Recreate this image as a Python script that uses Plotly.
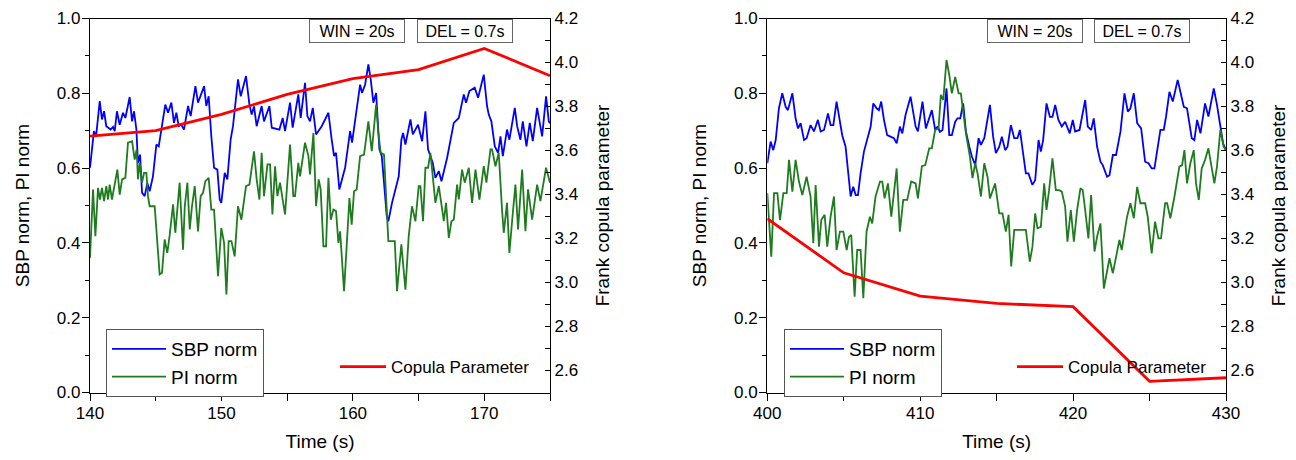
import plotly.graph_objects as go

# ---------------- Left panel data (140-175 s) ----------------
sbp_left_t = [140.0, 140.30, 140.46, 140.74, 140.91, 141.07, 141.24, 141.42, 141.57, 141.75, 141.88, 142.05, 142.26, 142.51, 142.69,
              143.02, 143.20, 143.35, 143.53, 143.65, 143.81, 143.96, 144.16, 144.36, 144.54, 144.79, 145.05, 145.23, 145.43, 145.73,
              145.94, 146.19, 146.39, 146.57, 146.75, 146.95, 147.15, 147.46, 147.66, 148.02, 148.22, 148.68, 148.85, 149.03, 149.23,
              149.44, 149.69, 149.87, 149.99, 150.25, 150.45, 150.70, 150.88, 151.09, 151.26, 151.47, 151.87, 152.13, 152.30, 152.48,
              152.68, 153.06, 153.24, 153.65, 153.83, 154.41, 154.66, 154.84, 155.22, 155.42, 155.85, 156.03, 156.36, 156.54, 156.74,
              156.95, 157.20, 157.63, 158.14, 158.39, 158.57, 158.72, 158.97, 159.41, 159.79, 159.94, 160.17, 160.55, 160.70, 160.93,
              161.18, 161.36, 161.56, 161.77, 162.02, 162.20, 162.37, 162.58, 162.70, 162.98, 163.49, 163.69, 163.82, 164.00, 164.38,
              164.56, 164.96, 165.27, 165.52, 165.72, 166.08, 166.28, 166.54, 166.74, 167.17, 167.68, 168.06, 168.44, 168.61, 168.87,
              169.27, 169.53, 169.96, 170.21, 170.34, 170.54, 170.80, 171.05, 171.23, 171.41, 171.73, 171.91, 172.32, 172.50, 172.75,
              172.93, 173.21, 173.46, 173.69, 174.02, 174.40, 174.70, 174.91, 175.0]
sbp_left = [0.601, 0.699, 0.684, 0.779, 0.730, 0.752, 0.712, 0.708, 0.703, 0.710, 0.699, 0.752, 0.716, 0.748, 0.734,
            0.790, 0.725, 0.752, 0.703, 0.614, 0.636, 0.534, 0.525, 0.560, 0.538, 0.578, 0.663, 0.658, 0.703, 0.770,
            0.748, 0.775, 0.721, 0.748, 0.712, 0.716, 0.703, 0.766, 0.739, 0.819, 0.775, 0.819, 0.766, 0.792, 0.685,
            0.601, 0.596, 0.516, 0.507, 0.587, 0.570, 0.676, 0.712, 0.784, 0.837, 0.792, 0.846, 0.770, 0.743, 0.765,
            0.712, 0.766, 0.725, 0.766, 0.708, 0.703, 0.734, 0.699, 0.775, 0.708, 0.797, 0.734, 0.828, 0.739, 0.725,
            0.761, 0.690, 0.712, 0.748, 0.676, 0.632, 0.641, 0.543, 0.601, 0.699, 0.668, 0.730, 0.823, 0.801, 0.823,
            0.877, 0.837, 0.775, 0.801, 0.650, 0.632, 0.561, 0.471, 0.458, 0.507, 0.578, 0.676, 0.694, 0.663, 0.730,
            0.690, 0.716, 0.672, 0.752, 0.650, 0.614, 0.574, 0.592, 0.565, 0.627, 0.721, 0.734, 0.797, 0.775, 0.806,
            0.815, 0.788, 0.850, 0.766, 0.743, 0.725, 0.658, 0.641, 0.685, 0.632, 0.703, 0.676, 0.761, 0.712, 0.676,
            0.725, 0.658, 0.721, 0.672, 0.761, 0.685, 0.792, 0.725, 0.720]

pi_left_t = [140.0, 140.23, 140.41, 140.61, 140.76, 140.91, 141.07, 141.24, 141.37, 141.50, 141.67, 142.08, 142.26, 142.44, 142.69,
             142.89, 143.20, 143.40, 143.55, 143.65, 143.78, 143.96, 144.11, 144.29, 144.41, 144.54, 144.92, 145.30, 145.48, 145.68,
             145.88, 146.06, 146.32, 146.49, 146.82, 147.08, 147.21, 147.41, 147.59, 147.76, 147.97, 148.22, 148.42, 148.60, 148.78,
             149.03, 149.23, 149.44, 149.74, 149.99, 150.20, 150.38, 150.55, 150.76, 151.01, 151.26, 151.52, 151.87, 152.13, 152.48,
             152.68, 152.89, 153.06, 153.24, 153.50, 153.70, 153.88, 154.08, 154.26, 154.46, 154.66, 154.84, 155.22, 155.47, 155.60,
             155.85, 155.98, 156.36, 156.62, 156.74, 157.00, 157.20, 157.40, 157.55, 157.76, 157.96, 158.14, 158.32, 158.52, 158.72,
             158.90, 159.03, 159.33, 159.53, 159.74, 159.91, 160.09, 160.29, 160.55, 160.85, 161.18, 161.44, 161.77, 161.94, 162.12,
             162.37, 162.70, 163.19, 163.36, 163.69, 164.00, 164.25, 164.50, 164.76, 165.01, 165.14, 165.34, 165.52, 165.72, 165.90,
             166.08, 166.28, 166.54, 166.79, 166.92, 167.09, 167.30, 167.50, 167.68, 167.93, 168.06, 168.31, 168.51, 168.82, 169.07,
             169.33, 169.63, 169.96, 170.16, 170.47, 170.59, 170.85, 171.10, 171.35, 171.48, 171.73, 171.91, 172.17, 172.37, 172.57,
             172.88, 173.13, 173.33, 173.64, 174.02, 174.27, 174.70, 175.0]
pi_left = [0.360, 0.543, 0.418, 0.547, 0.516, 0.547, 0.512, 0.552, 0.516, 0.556, 0.516, 0.596, 0.529, 0.570, 0.574,
           0.668, 0.672, 0.623, 0.650, 0.570, 0.614, 0.561, 0.587, 0.587, 0.525, 0.498, 0.498, 0.316, 0.320, 0.409,
           0.373, 0.420, 0.503, 0.427, 0.561, 0.382, 0.498, 0.561, 0.436, 0.498, 0.552, 0.431, 0.525, 0.534, 0.565,
           0.574, 0.489, 0.489, 0.311, 0.440, 0.400, 0.262, 0.405, 0.405, 0.364, 0.498, 0.462, 0.552, 0.556, 0.645,
           0.570, 0.516, 0.641, 0.525, 0.610, 0.610, 0.476, 0.605, 0.525, 0.561, 0.516, 0.476, 0.663, 0.525, 0.525,
           0.614, 0.578, 0.668, 0.632, 0.583, 0.694, 0.498, 0.570, 0.543, 0.391, 0.391, 0.574, 0.462, 0.489, 0.485,
           0.400, 0.431, 0.271, 0.391, 0.520, 0.449, 0.538, 0.543, 0.632, 0.636, 0.725, 0.645, 0.770, 0.694, 0.641,
           0.636, 0.405, 0.405, 0.271, 0.396, 0.275, 0.418, 0.498, 0.458, 0.552, 0.552, 0.458, 0.601, 0.601, 0.641,
           0.574, 0.507, 0.552, 0.498, 0.458, 0.507, 0.413, 0.458, 0.462, 0.556, 0.516, 0.596, 0.561, 0.601, 0.507,
           0.596, 0.516, 0.605, 0.561, 0.650, 0.650, 0.605, 0.641, 0.489, 0.427, 0.507, 0.373, 0.480, 0.556, 0.436,
           0.596, 0.431, 0.543, 0.462, 0.556, 0.512, 0.601, 0.561]

cop_left_t = [140, 145, 150, 155, 160, 165, 170, 175]
cop_left = [3.665, 3.69, 3.764, 3.855, 3.927, 3.968, 4.064, 3.94]

# ---------------- Right panel data (400-430 s) ----------------
sbp_right_t = [400.0, 400.22, 400.39, 400.55, 400.76, 400.98, 401.20, 401.35, 401.64, 401.85, 402.01, 402.18, 402.40, 402.57, 402.83,
               403.05, 403.31, 403.49, 403.71, 403.97, 404.14, 404.32, 404.53, 404.75, 404.90, 405.12, 405.27, 405.45, 405.62, 405.78,
               405.93, 406.10, 406.32, 406.54, 406.76, 406.93, 407.15, 407.30, 407.45, 407.63, 407.84, 408.06, 408.28, 408.46, 408.67,
               408.83, 409.04, 409.37, 409.54, 409.70, 409.85, 410.15, 410.37, 410.76, 410.98, 411.14, 411.29, 411.46, 411.72, 411.90,
               412.07, 412.29, 412.44, 412.62, 412.81, 412.99, 413.21, 413.38, 413.60, 413.82, 413.97, 414.19, 414.56, 414.77, 414.95,
               415.17, 415.34, 415.56, 415.71, 415.93, 416.15, 416.36, 416.52, 416.73, 416.91, 417.08, 417.34, 417.52, 417.74, 417.89,
               418.04, 418.26, 418.48, 418.65, 418.83, 419.04, 419.26, 419.48, 419.78, 419.98, 420.13, 420.42, 420.63, 420.79, 420.96,
               421.18, 421.35, 421.57, 421.79, 421.94, 422.22, 422.38, 422.60, 422.81, 423.10, 423.36, 423.58, 423.75, 423.97, 424.19,
               424.45, 424.71, 424.93, 425.14, 425.32, 425.49, 425.71, 425.93, 426.08, 426.30, 426.52, 426.84, 427.02, 427.24, 427.45,
               427.76, 427.93, 428.11, 428.33, 428.63, 428.85, 429.20, 429.41, 429.63, 429.81, 430.0]
sbp_right = [0.613, 0.671, 0.648, 0.675, 0.760, 0.800, 0.764, 0.755, 0.800, 0.733, 0.706, 0.720, 0.675, 0.680, 0.715,
             0.698, 0.729, 0.698, 0.702, 0.746, 0.715, 0.715, 0.778, 0.720, 0.688, 0.657, 0.586, 0.524, 0.550, 0.528,
             0.528, 0.586, 0.644, 0.675, 0.711, 0.773, 0.760, 0.755, 0.778, 0.729, 0.688, 0.684, 0.680, 0.666, 0.711,
             0.693, 0.742, 0.791, 0.747, 0.711, 0.698, 0.778, 0.706, 0.755, 0.702, 0.711, 0.697, 0.702, 0.813, 0.688,
             0.688, 0.724, 0.733, 0.733, 0.773, 0.698, 0.657, 0.631, 0.608, 0.680, 0.662, 0.680, 0.769, 0.684, 0.640,
             0.657, 0.684, 0.648, 0.657, 0.715, 0.680, 0.680, 0.702, 0.631, 0.586, 0.586, 0.555, 0.568, 0.675, 0.644,
             0.675, 0.773, 0.737, 0.737, 0.769, 0.729, 0.711, 0.724, 0.693, 0.729, 0.698, 0.702, 0.751, 0.782, 0.711,
             0.702, 0.733, 0.657, 0.617, 0.608, 0.577, 0.581, 0.635, 0.635, 0.698, 0.800, 0.751, 0.760, 0.800, 0.720,
             0.706, 0.617, 0.613, 0.599, 0.599, 0.648, 0.702, 0.702, 0.738, 0.804, 0.778, 0.836, 0.800, 0.764, 0.760,
             0.680, 0.675, 0.729, 0.693, 0.773, 0.738, 0.813, 0.769, 0.711, 0.666, 0.648]

pi_right_t = [400.0, 400.26, 400.44, 400.66, 400.83, 401.05, 401.27, 401.42, 401.64, 401.85, 402.07, 402.29, 402.57, 402.83, 403.01,
              403.16, 403.38, 403.53, 403.75, 403.92, 404.14, 404.36, 404.53, 404.75, 404.97, 405.19, 405.34, 405.49, 405.71, 405.88,
              406.10, 406.28, 406.49, 406.71, 406.86, 407.08, 407.37, 407.52, 407.67, 407.89, 408.11, 408.46, 408.67, 408.89, 409.15,
              409.41, 409.70, 409.85, 410.11, 410.33, 410.59, 410.76, 410.98, 411.20, 411.35, 411.51, 411.72, 411.90, 412.07, 412.29,
              412.51, 412.66, 412.99, 413.25, 413.42, 413.60, 413.75, 413.97, 414.19, 414.40, 414.56, 414.73, 414.90, 415.17, 415.38,
              415.60, 415.78, 415.95, 416.15, 416.91, 417.17, 417.34, 417.52, 417.67, 417.89, 418.11, 418.26, 418.43, 418.65, 418.87,
              419.09, 419.26, 419.48, 419.63, 419.85, 420.05, 420.26, 420.48, 420.63, 420.79, 421.00, 421.18, 421.40, 421.57, 421.79,
              422.01, 422.22, 422.38, 422.60, 422.81, 423.03, 423.18, 423.53, 423.75, 423.97, 424.19, 424.40, 424.71, 424.88, 425.14,
              425.36, 425.58, 425.75, 426.02, 426.15, 426.36, 426.63, 426.95, 427.13, 427.28, 427.45, 427.67, 427.89, 428.04, 428.22,
              428.41, 428.63, 428.85, 429.07, 429.24, 429.41, 429.63, 429.85, 430.0]
pi_right = [0.533, 0.363, 0.533, 0.533, 0.461, 0.533, 0.533, 0.622, 0.537, 0.622, 0.564, 0.528, 0.577, 0.524, 0.399,
            0.555, 0.390, 0.461, 0.475, 0.390, 0.470, 0.524, 0.381, 0.430, 0.430, 0.381, 0.416, 0.421, 0.256, 0.381,
            0.381, 0.252, 0.430, 0.470, 0.452, 0.524, 0.564, 0.564, 0.519, 0.559, 0.470, 0.599, 0.430, 0.515, 0.515,
            0.564, 0.559, 0.519, 0.605, 0.608, 0.653, 0.653, 0.702, 0.706, 0.796, 0.782, 0.889, 0.849, 0.800, 0.844,
            0.800, 0.800, 0.693, 0.631, 0.573, 0.613, 0.586, 0.524, 0.613, 0.577, 0.519, 0.541, 0.559, 0.479, 0.479,
            0.430, 0.475, 0.337, 0.435, 0.435, 0.350, 0.390, 0.479, 0.439, 0.443, 0.559, 0.488, 0.541, 0.626, 0.541,
            0.541, 0.537, 0.497, 0.403, 0.488, 0.403, 0.488, 0.546, 0.541, 0.488, 0.412, 0.528, 0.377, 0.417, 0.452,
            0.278, 0.328, 0.359, 0.319, 0.363, 0.408, 0.381, 0.470, 0.506, 0.466, 0.550, 0.506, 0.506, 0.470, 0.372,
            0.457, 0.412, 0.412, 0.506, 0.506, 0.466, 0.524, 0.604, 0.608, 0.648, 0.559, 0.613, 0.648, 0.559, 0.515,
            0.599, 0.622, 0.653, 0.595, 0.559, 0.604, 0.702, 0.657, 0.648]

cop_right_t = [400, 405, 410, 415, 420, 425, 430]
cop_right = [3.29, 3.044, 2.938, 2.905, 2.89, 2.551, 2.567]

# ---------------- styling constants ----------------
W, H = 1296, 460
OFF = 8  # page offset of the figure inside the browser window
FONT = "Liberation Sans, Arial, sans-serif"
BLUE, GREEN, RED = "#0000FF", "#1E7B1E", "#FF0000"

def px_x(p):
    return (p - OFF) / W

def px_y(p):
    return 1 - (p - OFF) / H

y_dom = [px_y(392.5), px_y(18.5)]

fig = go.Figure()

fig.add_trace(go.Scatter(x=sbp_left_t, y=sbp_left, mode="lines", name="SBP norm",
                         line=dict(color=BLUE, width=1.8), xaxis="x", yaxis="y", legend="legend"))
fig.add_trace(go.Scatter(x=pi_left_t, y=pi_left, mode="lines", name="PI norm",
                         line=dict(color=GREEN, width=1.8), xaxis="x", yaxis="y", legend="legend"))
fig.add_trace(go.Scatter(x=cop_left_t, y=cop_left, mode="lines", name="Copula Parameter",
                         line=dict(color=RED, width=2.8), xaxis="x", yaxis="y2", legend="legend2"))
fig.add_trace(go.Scatter(x=sbp_right_t, y=sbp_right, mode="lines", name="SBP norm",
                         line=dict(color=BLUE, width=1.8), xaxis="x2", yaxis="y3", legend="legend3"))
fig.add_trace(go.Scatter(x=pi_right_t, y=pi_right, mode="lines", name="PI norm",
                         line=dict(color=GREEN, width=1.8), xaxis="x2", yaxis="y3", legend="legend3"))
fig.add_trace(go.Scatter(x=cop_right_t, y=cop_right, mode="lines", name="Copula Parameter",
                         line=dict(color=RED, width=2.8), xaxis="x2", yaxis="y4", legend="legend4"))

tickfont = dict(family=FONT, size=17, color="black")
titlefont = dict(family=FONT, size=19, color="black")

def xaxis(dom, rng, anchor):
    return dict(domain=dom, range=rng, anchor=anchor, showgrid=False, zeroline=False, automargin=False,
                showline=True, linecolor="black", linewidth=1.3, mirror=True,
                ticks="outside", ticklen=7, tickwidth=1.2, tickcolor="black",
                tick0=rng[0], dtick=10, tickfont=tickfont, ticklabelstandoff=-2,
                minor=dict(dtick=5, tick0=rng[0], ticks="outside", ticklen=7, tickwidth=1.2, tickcolor="black"),
                title=dict(text="Time (s)", font=titlefont, standoff=12))

def yaxis_left(anchor):
    return dict(domain=y_dom, range=[0, 1.0], anchor=anchor, showgrid=False, zeroline=False, automargin=False,
                showline=True, linecolor="black", linewidth=1.3,
                ticks="outside", ticklen=7, tickwidth=1.2, tickcolor="black",
                tick0=0, dtick=0.2, tickformat=".1f", tickfont=tickfont, ticklabelstandoff=-2,
                minor=dict(dtick=0.1, ticks="outside", ticklen=4, tickwidth=1.2, tickcolor="black"),
                title=dict(text="SBP norm, PI norm", font=titlefont, standoff=22))

def yaxis_right(anchor, overlay):
    return dict(domain=y_dom, range=[2.5, 4.2], anchor=anchor, overlaying=overlay, side="right",
                showgrid=False, zeroline=False, automargin=False, showline=True, linecolor="black", linewidth=1.3,
                ticks="inside", ticklen=5, tickwidth=1.2, tickcolor="black",
                tick0=2.6, dtick=0.2, tickformat=".1f", tickfont=tickfont,
                minor=dict(dtick=0.1, tick0=2.5, ticks="inside", ticklen=5, tickwidth=1.2, tickcolor="black"),
                title=dict(text="Frank copula parameter", font=titlefont, standoff=18))

legend_box = dict(font=dict(family=FONT, size=19, color="black"), bgcolor="white",
                  bordercolor="#555555", borderwidth=1, xanchor="left", yanchor="top",
                  itemwidth=54, tracegroupgap=0, itemclick=False)
legend_cop = dict(font=dict(family=FONT, size=17, color="black"), bgcolor="rgba(0,0,0,0)",
                  borderwidth=0, xanchor="left", yanchor="middle", itemwidth=46, itemclick=False)

fig.update_layout(
    width=W, height=H,
    margin=dict(l=0, r=0, t=0, b=0, autoexpand=False),
    paper_bgcolor="white", plot_bgcolor="white",
    font=dict(family=FONT, color="black"),
    showlegend=True,
    xaxis=xaxis([px_x(90), px_x(550)], [140, 175], "y"),
    yaxis=yaxis_left("x"),
    yaxis2=yaxis_right("x", "y"),
    xaxis2=xaxis([px_x(767.3), px_x(1226)], [400, 430], "y3"),
    yaxis3=yaxis_left("x2"),
    yaxis4=yaxis_right("x2", "y3"),
    legend=dict(legend_box, x=px_x(106), y=px_y(329)),
    legend2=dict(legend_cop, x=px_x(335), y=px_y(367)),
    legend3=dict(legend_box, x=px_x(784), y=px_y(329)),
    legend4=dict(legend_cop, x=px_x(1012), y=px_y(367)),
)

ann_font = dict(family=FONT, size=16, color="black")
for cx, txt in [(357, "WIN = 20s"), (464.5, "DEL = 0.7s"), (1035, "WIN = 20s"), (1141.5, "DEL = 0.7s")]:
    fig.add_annotation(x=px_x(cx), y=px_y(18.5), xref="paper", yref="paper", xanchor="center", yanchor="top",
                       text=txt, showarrow=False, font=ann_font, bordercolor="#666666", borderwidth=1,
                       borderpad=2, bgcolor="white", width=90, height=18)

fig.write_html("out.html")
